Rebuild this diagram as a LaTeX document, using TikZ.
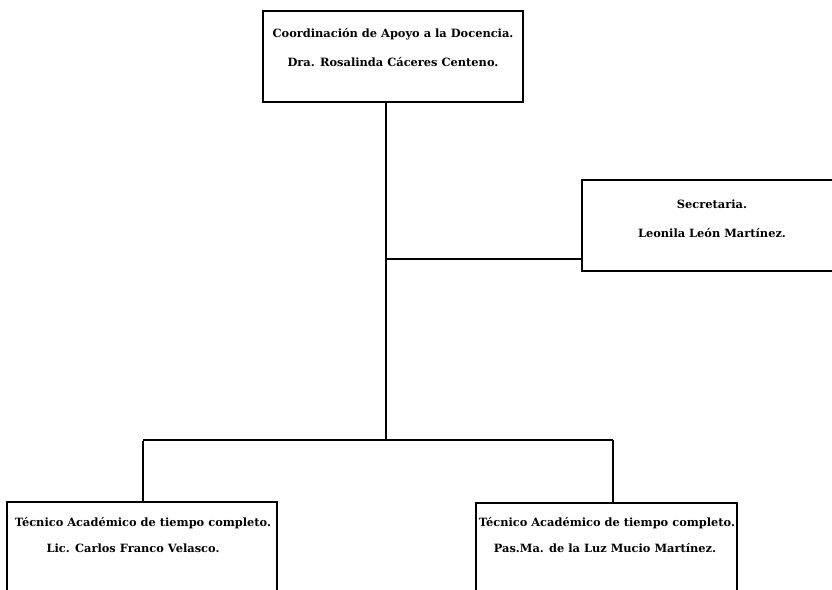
\documentclass[tikz,border=0pt]{standalone}
\usepackage{fontspec}
\setmainfont{DejaVu Serif}
\begin{document}
\begin{tikzpicture}[x=1pt,y=-1pt,
  box/.style={draw=black,line width=1.4pt,rectangle,inner sep=0pt},
  lbl/.style={font=\bfseries\fontsize{11.4}{14}\selectfont,inner sep=0pt,anchor=base},
  conn/.style={draw=black,line width=2.6pt},
  connh/.style={draw=black,line width=1.8pt}]
\useasboundingbox[fill=white] (0,0) rectangle (832,589);
% boxes
\node[box,minimum width=260pt,minimum height=91pt] (top) at (393,56.5) {};
\node[box,minimum width=260pt,minimum height=91pt] (sec) at (712,225.5) {};
\node[box,minimum width=270pt,minimum height=120pt] (lb) at (142,562) {};
\node[box,minimum width=261pt,minimum height=120pt] (rb) at (606.5,563) {};
% texts
\node[lbl] (t1) at (393,37) {Coordinación de Apoyo a la Docencia.};
\node[lbl] (t2) at (393,66) {Dra. Rosalinda Cáceres Centeno.};
\node[lbl] (s1) at (712,208) {Secretaria.};
\node[lbl] (s2) at (712,237) {Leonila León Martínez.};
\node[lbl] (l1) at (143,526) {Técnico Académico de tiempo completo.};
\node[lbl] (l2) at (133,552) {Lic. Carlos Franco Velasco.};
\node[lbl] (r1) at (607,526) {Técnico Académico de tiempo completo.};
\node[lbl] (r2) at (605,552) {Pas.Ma. de la Luz Mucio Martínez.};
% connectors
\coordinate (j1) at (386,259);
\coordinate (j2) at (386,440);
\coordinate (hl) at (143,440);
\coordinate (hr) at (613,440);
\draw[conn] (top.south -| j1) -- (j2);
\draw[connh] (j1) -- (sec.west |- j1);
\draw[connh] (hl) -- (hr);
\draw[conn] ([yshift=-0.9pt]hl) -- (lb.north -| hl);
\draw[conn] (hr) -- (rb.north -| hr);
\end{tikzpicture}
\end{document}
